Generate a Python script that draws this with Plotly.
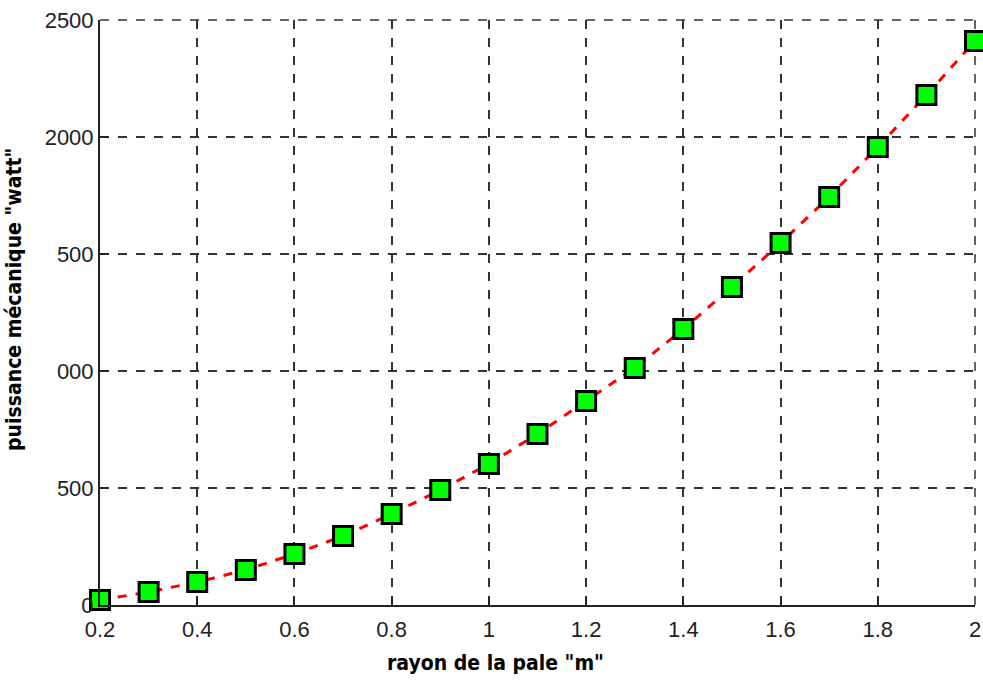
import plotly.graph_objects as go

rayon = [0.2, 0.3, 0.4, 0.5, 0.6, 0.7, 0.8, 0.9, 1.0, 1.1, 1.2, 1.3, 1.4, 1.5, 1.6, 1.7, 1.8, 1.9, 2.0]
puissance = [21, 56, 98, 150, 218, 295, 389, 491, 603, 731, 872, 1013, 1179, 1359, 1547, 1744, 1957, 2179, 2410]

x_ticks = [0.2, 0.4, 0.6, 0.8, 1.0, 1.2, 1.4, 1.6, 1.8, 2.0]
x_ticktext = ["0.2", "0.4", "0.6", "0.8", "1", "1.2", "1.4", "1.6", "1.8", "2"]
y_ticks = [0, 500, 1000, 1500, 2000, 2500]
y_ticktext = ["0", "500", "000", "500", "2000", "2500"]

tick_font = dict(family="Liberation Sans, Arial, sans-serif", size=22, color="#222222")
title_font = dict(family="DejaVu Sans Condensed, Liberation Sans Narrow, Arial Narrow, sans-serif",
                  size=21, color="black")

fig = go.Figure()
fig.add_trace(go.Scatter(
    x=rayon, y=puissance, mode="lines+markers",
    line=dict(color="#ff0000", width=3, dash="dash"),
    marker=dict(symbol="square", size=19, color="#00ff00",
                line=dict(color="black", width=3)),
    cliponaxis=False,
))

grid_style = dict(color="#333333", width=1.5, dash="dash")

fig.update_layout(
    width=983, height=681,
    margin=dict(l=100, r=8, t=20, b=76, autoexpand=False),
    paper_bgcolor="white", plot_bgcolor="white",
    showlegend=False,
    xaxis=dict(
        range=[0.2, 2.0], tickvals=x_ticks, ticktext=x_ticktext,
        showline=True, linecolor="#222222", linewidth=2,
        ticks="inside", ticklen=8, tickcolor="#222222", tickwidth=2,
        showgrid=True, gridcolor="#333333", griddash="dash", gridwidth=1.5,
        zeroline=False, tickfont=tick_font, automargin=False,
        ticklabelstandoff=4,
    ),
    yaxis=dict(
        range=[0, 2500], tickvals=y_ticks, ticktext=y_ticktext,
        showline=True, linecolor="#222222", linewidth=2,
        ticks="inside", ticklen=8, tickcolor="#222222", tickwidth=2,
        showgrid=True, gridcolor="#333333", griddash="dash", gridwidth=1.5,
        zeroline=False, tickfont=tick_font, automargin=False,
    ),
    shapes=[
        dict(type="line", xref="paper", yref="paper", x0=0, x1=1, y0=1, y1=1,
             line=grid_style, layer="below"),
        dict(type="line", xref="paper", yref="paper", x0=1, x1=1, y0=0, y1=1,
             line=grid_style, layer="below"),
    ],
    annotations=[
        dict(text='<b>rayon de la pale "m"</b>', xref="paper", yref="paper",
             x=(495 - 100) / 875, y=-44 / 585, xanchor="center", yanchor="top",
             showarrow=False, font=title_font),
        dict(text='<b>puissance mécanique "watt"</b>', xref="paper", yref="paper",
             x=-72 / 875, y=(605 - 300) / 585, xanchor="right", yanchor="middle",
             textangle=-90, showarrow=False, font=title_font),
    ],
)

fig.write_html("out.html")
